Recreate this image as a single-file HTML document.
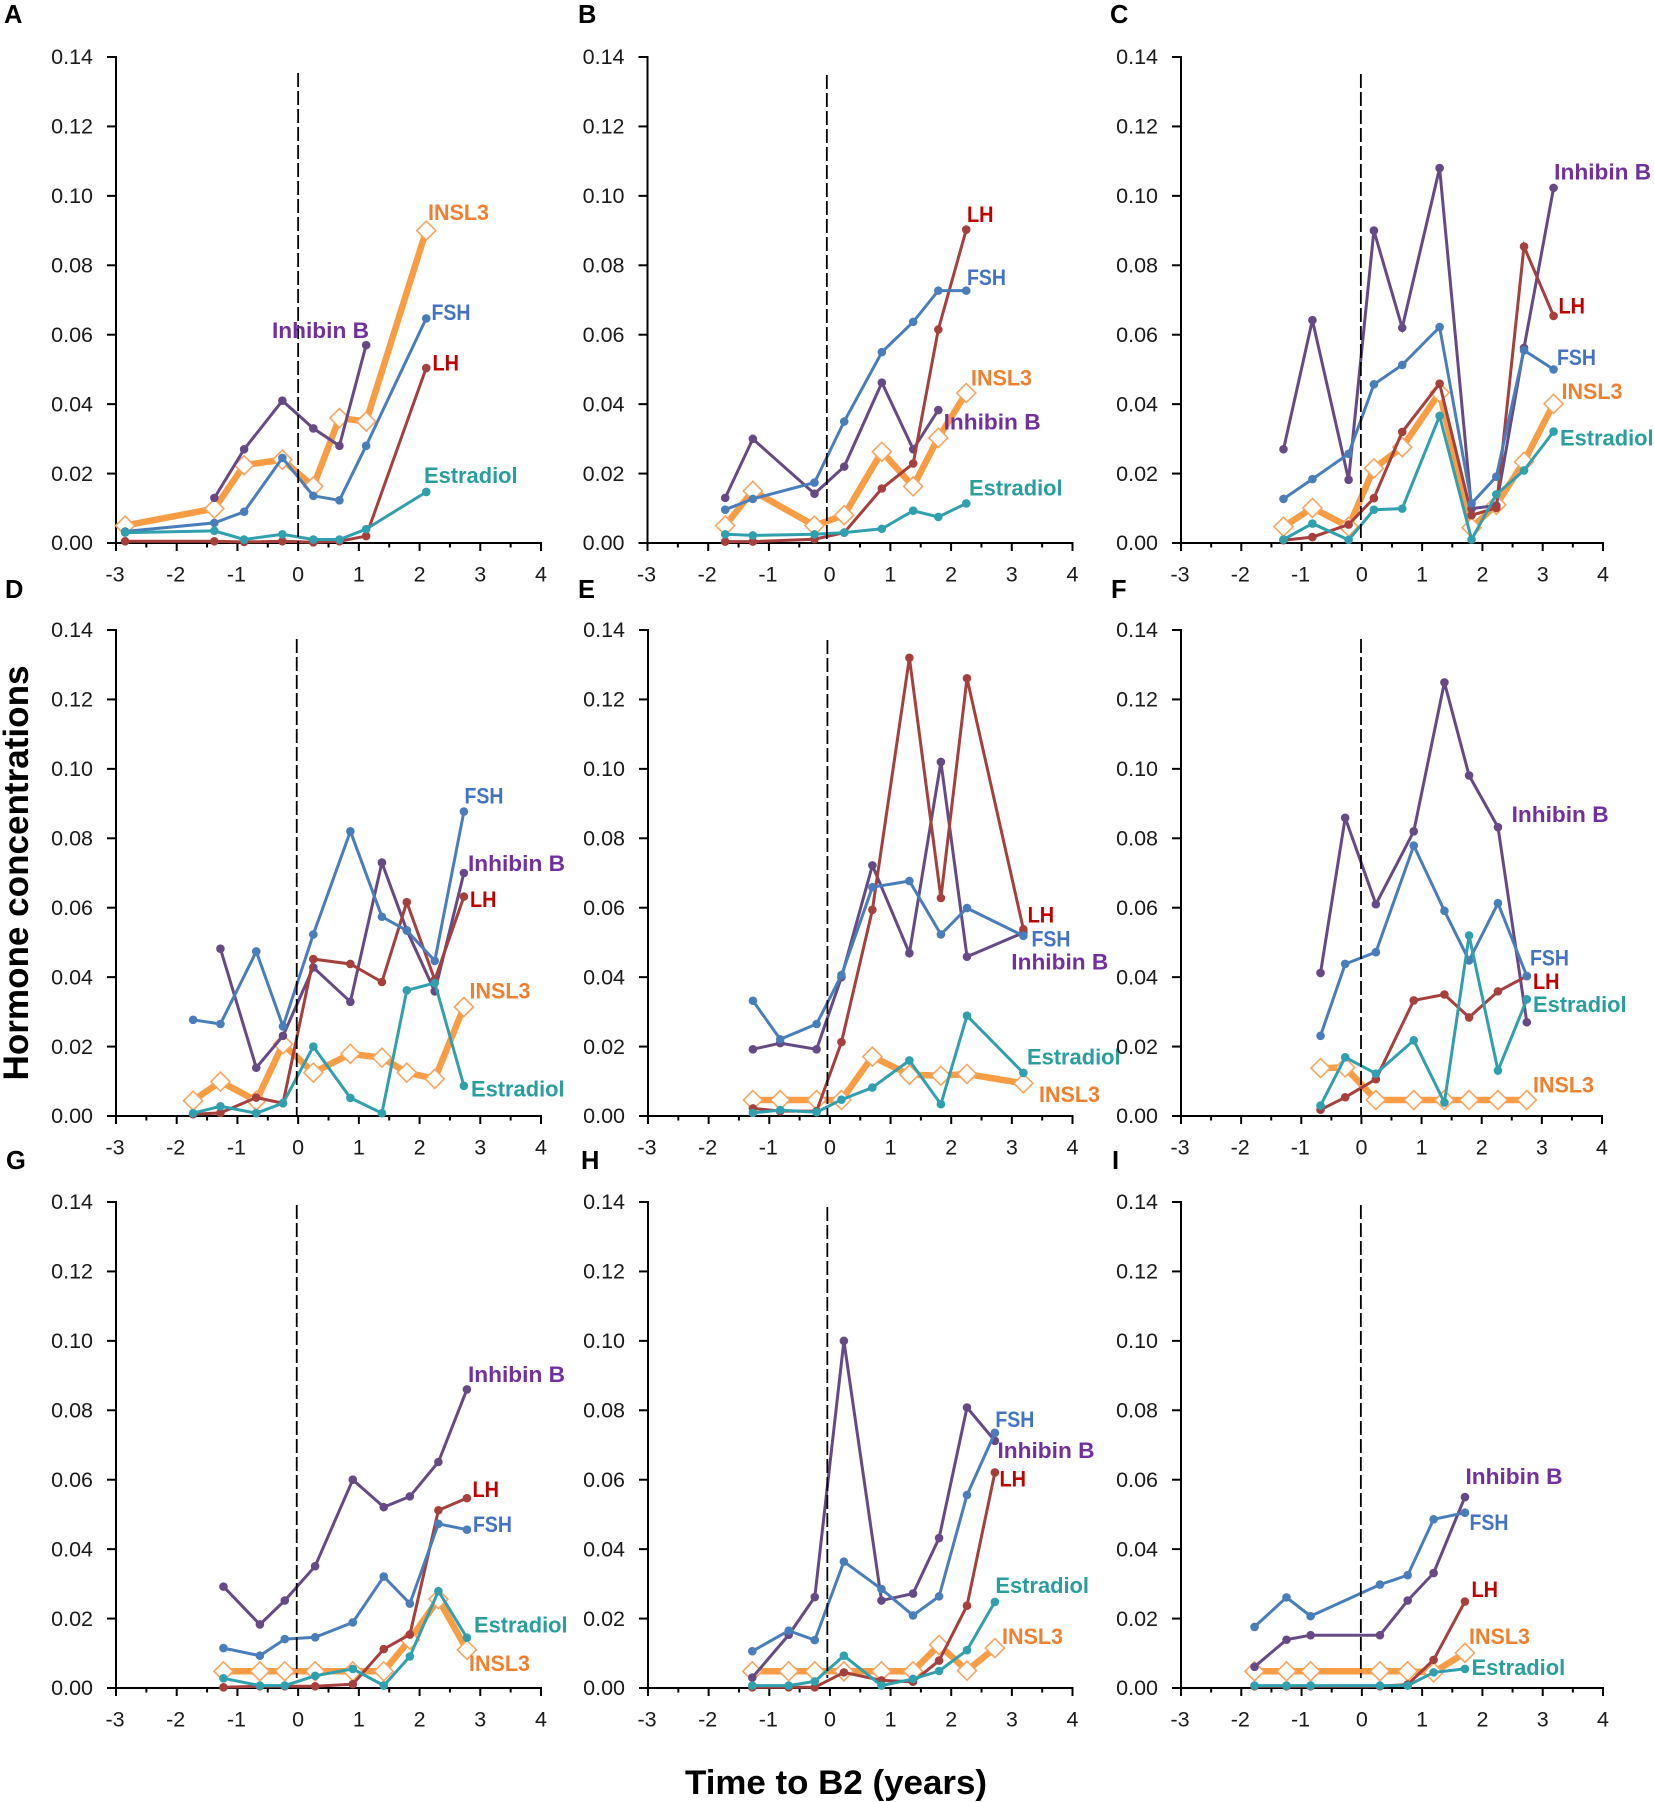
<!DOCTYPE html>
<html lang="en">
<head>
<meta charset="utf-8">
<title>Hormone concentrations vs time to B2</title>
<style>
html,body{margin:0;padding:0;background:#fff;}
svg{display:block;}
text{font-family:"Liberation Sans",sans-serif;}
</style>
</head>
<body>
<svg id="figure" xmlns="http://www.w3.org/2000/svg" width="1654" height="1802" viewBox="0 0 1654 1802">
  <rect x="0" y="0" width="1654" height="1802" fill="#ffffff"/>
  <text transform="translate(28,873) rotate(-90)" text-anchor="middle" font-size="35.5" font-weight="700" fill="#000" textLength="415" lengthAdjust="spacingAndGlyphs">Hormone concentrations</text>
  <text x="836" y="1794" text-anchor="middle" font-size="34" font-weight="700" fill="#000" textLength="302" lengthAdjust="spacingAndGlyphs">Time to B2 (years)</text>
</svg>
<script>
// ---- Axis tick labels ----
const yTickValues = [0, 0.02, 0.04, 0.06, 0.08, 0.10, 0.12, 0.14];
const xTickValues = [-3, -2, -1, 0, 1, 2, 3, 4];

// ---- Panel A ----
const timesA = [-2.85, -1.38, -0.89, -0.26, 0.25, 0.68, 1.12, 2.11];
const insl3A = [0.005, 0.0099, 0.0224, 0.024, 0.0163, 0.036, 0.035, 0.09];
const inhibinA = [null, 0.013, 0.027, 0.041, 0.033, 0.028, 0.057, null];
const lhA = [0.0005, 0.0005, 0.0003, 0.0005, 0.0002, 0.0005, 0.002, 0.0504];
const fshA = [0.0033, 0.0058, 0.009, 0.0245, 0.0136, 0.0123, 0.028, 0.0647];
const estradiolA = [0.003, 0.0035, 0.001, 0.0025, 0.001, 0.001, 0.004, 0.0147];

// ---- Panel B ----
const timesB = [-1.72, -1.265, -0.25, 0.24, 0.86, 1.376, 1.79, 2.25];
const insl3B = [0.005, 0.015, 0.005, 0.008, 0.0263, 0.0163, 0.0303, 0.0432];
const inhibinB = [0.013, 0.03, 0.0142, 0.022, 0.0462, 0.027, 0.0383, null];
const lhB = [0.0004, 0.0004, 0.0011, 0.003, 0.0157, 0.0229, 0.0615, 0.0903];
const fshB = [0.0096, 0.0127, 0.0174, 0.035, 0.055, 0.0637, 0.0727, 0.0727];
const estradiolB = [0.0025, 0.0022, 0.0025, 0.003, 0.0041, 0.0093, 0.0075, 0.0114];

// ---- Panel C ----
const timesC = [-1.3, -0.82, -0.22, 0.2, 0.67, 1.29, 1.82, 2.23, 2.69, 3.18];
const insl3C = [0.0047, 0.0101, 0.0047, 0.0215, 0.0276, 0.0433, 0.0044, 0.011, 0.0234, 0.0401];
const inhibinC = [0.027, 0.0642, 0.0182, 0.09, 0.062, 0.108, 0.0099, 0.0108, 0.0562, 0.1023];
const lhC = [0.0008, 0.0017, 0.0053, 0.0129, 0.032, 0.0459, 0.008, 0.0101, 0.0854, 0.0654];
const fshC = [0.0127, 0.0184, 0.0257, 0.0457, 0.0513, 0.0622, 0.0114, 0.0191, 0.0555, 0.05];
const estradiolC = [0.001, 0.0056, 0.0009, 0.0096, 0.0099, 0.0366, 0.001, 0.014, 0.0209, 0.0321];

// ---- Panel D ----
const timesD = [-1.73, -1.28, -0.69, -0.25, 0.25, 0.86, 1.38, 1.79, 2.25, 2.73];
const insl3D = [0.0044, 0.0099, 0.0044, 0.0207, 0.0125, 0.0179, 0.0168, 0.0125, 0.0107, 0.0314];
const inhibinD = [null, 0.0482, 0.0139, 0.0231, 0.0428, 0.0329, 0.073, 0.0535, 0.0359, 0.07];
const lhD = [0.0005, 0.0009, 0.0053, 0.0037, 0.0452, 0.0438, 0.0386, 0.0616, 0.0392, 0.0632];
const fshD = [0.0277, 0.0265, 0.0474, 0.0258, 0.0523, 0.082, 0.0574, 0.0534, 0.0447, 0.0877];
const estradiolD = [0.0008, 0.0028, 0.0008, 0.0037, 0.02, 0.0052, 0.0008, 0.0362, 0.0383, 0.0087];

// ---- Panel E ----
const timesE = [-1.27, -0.82, -0.22, 0.19, 0.7, 1.31, 1.83, 2.26, 3.19];
const insl3E = [0.0046, 0.0046, 0.0046, 0.0046, 0.0171, 0.0119, 0.0116, 0.0121, 0.0094];
const inhibinE = [0.0192, 0.021, 0.0192, 0.04, 0.0722, 0.0469, 0.102, 0.0459, 0.0528];
const lhE = [0.0022, 0.0014, 0.0014, 0.0213, 0.0594, 0.132, 0.0628, 0.1261, 0.0538];
const fshE = [0.0332, 0.0221, 0.0265, 0.0406, 0.0659, 0.0677, 0.0523, 0.0599, 0.0519];
const estradiolE = [0.0009, 0.0017, 0.0011, 0.0047, 0.0082, 0.016, 0.0034, 0.0289, 0.0124];

// ---- Panel F ----
const timesF = [-0.68, -0.27, 0.24, 0.87, 1.38, 1.79, 2.27, 2.75];
const insl3F = [0.0138, 0.014, 0.0046, 0.0046, 0.0046, 0.0046, 0.0046, 0.0046];
const inhibinF = [0.0412, 0.0859, 0.061, 0.082, 0.1249, 0.0981, 0.0832, 0.027];
const lhF = [0.0018, 0.0054, 0.0106, 0.0333, 0.035, 0.0284, 0.0359, 0.0403];
const fshF = [0.0231, 0.0438, 0.0472, 0.0779, 0.0591, 0.0448, 0.0613, 0.0403];
const estradiolF = [0.003, 0.0169, 0.0122, 0.0218, 0.0039, 0.052, 0.0131, 0.0336];

// ---- Panel G ----
const timesG = [-1.23, -0.63, -0.22, 0.28, 0.9, 1.41, 1.84, 2.31, 2.78];
const insl3G = [0.0048, 0.0048, 0.0048, 0.0048, 0.0048, 0.0048, 0.0139, 0.0256, 0.011];
const inhibinG = [0.0292, 0.0183, 0.0252, 0.0351, 0.06, 0.0521, 0.0552, 0.0651, 0.086];
const lhG = [0.0002, 0.0005, 0.0005, 0.0005, 0.0011, 0.0112, 0.0154, 0.0512, 0.0547];
const fshG = [0.0115, 0.0093, 0.0141, 0.0146, 0.0189, 0.0321, 0.0243, 0.0473, 0.0456];
const estradiolG = [0.0028, 0.0007, 0.0007, 0.0035, 0.0055, 0.0007, 0.0091, 0.0279, 0.0145];

// ---- Panel H ----
const timesH = [-1.28, -0.68, -0.25, 0.23, 0.85, 1.37, 1.8, 2.26, 2.72];
const insl3H = [0.0048, 0.0048, 0.0048, 0.0048, 0.0048, 0.0048, 0.0124, 0.005, 0.0115];
const inhibinH = [0.003, 0.0153, 0.0262, 0.1, 0.0252, 0.0272, 0.0432, 0.0808, 0.0712];
const lhH = [0.0002, 0.0002, 0.0002, 0.0045, 0.0022, 0.0018, 0.0079, 0.0237, 0.0621];
const fshH = [0.0106, 0.0165, 0.0138, 0.0364, 0.0285, 0.0209, 0.0264, 0.0556, 0.0735];
const estradiolH = [0.0007, 0.0007, 0.0019, 0.0093, 0.0007, 0.0026, 0.0049, 0.0109, 0.0248];

// ---- Panel I ----
const timesI = [-1.78, -1.25, -0.85, 0.3, 0.76, 1.19, 1.71];
const insl3I = [0.0048, 0.0048, 0.0048, 0.0048, 0.0048, 0.0045, 0.0101];
const inhibinI = [0.0061, 0.0139, 0.0152, 0.0152, 0.0252, 0.0331, 0.055];
const lhI = [0.0005, 0.0005, 0.0005, 0.0005, 0.001, 0.0081, 0.0249];
const fshI = [0.0176, 0.0261, 0.0207, 0.0298, 0.0325, 0.0486, 0.0505];
const estradiolI = [0.0007, 0.0007, 0.0007, 0.0007, 0.0007, 0.0045, 0.0055];

// ---- Styling of each hormone ----
const hormoneStyles = {
  insl3: {label: 'INSL3', line: '#f99d45', text: '#f0802f', width: 6.5, textWidth: 61},
  inhibin: {label: 'Inhibin B', line: '#664a85', text: '#7030a0', width: 3, textWidth: 97},
  lh: {label: 'LH', line: '#a5403d', text: '#c00000', width: 3, textWidth: 26.5},
  fsh: {label: 'FSH', line: '#4a7ebb', text: '#4472c4', width: 3, textWidth: 39},
  estradiol: {label: 'Estradiol', line: '#31a0ae', text: '#2a9d9d', width: 3, textWidth: 93.6}
};
const drawOrder = ['insl3', 'inhibin', 'lh', 'fsh', 'estradiol'];

// ---- Panel layout (frame geometry and label anchors) ----
const panelLayouts = [
  {id: 'A', xLeft: 116, xRight: 541, yTop: 57, yBase: 543, letterX: 4, letterY: 23, dashTop: 73, dashBottom: 543, dashShift: 0, times: timesA,
   series: {insl3: insl3A, inhibin: inhibinA, lh: lhA, fsh: fshA, estradiol: estradiolA},
   labels: {insl3: [428, 220], fsh: [431.5, 320], inhibin: [272, 338], lh: [432.5, 370.6], estradiol: [424, 483]}},
  {id: 'B', xLeft: 647.5, xRight: 1072.5, yTop: 57, yBase: 543, letterX: 578, letterY: 23, dashTop: 75, dashBottom: 543, dashShift: -2.8, times: timesB,
   series: {insl3: insl3B, inhibin: inhibinB, lh: lhB, fsh: fshB, estradiol: estradiolB},
   labels: {lh: [967, 222], fsh: [967, 285], insl3: [971, 385.5], inhibin: [943.6, 429.5], estradiol: [969, 495.7]}},
  {id: 'C', xLeft: 1181, xRight: 1603, yTop: 57, yBase: 543, letterX: 1110, letterY: 23, dashTop: 74, dashBottom: 543, dashShift: -1, times: timesC,
   series: {insl3: insl3C, inhibin: inhibinC, lh: lhC, fsh: fshC, estradiol: estradiolC},
   labels: {inhibin: [1554.2, 179.6], lh: [1558.5, 313.6], fsh: [1557, 365], insl3: [1561.5, 399], estradiol: [1560, 445.6]}},
  {id: 'D', xLeft: 116, xRight: 541, yTop: 630, yBase: 1116, letterX: 5, letterY: 598, dashTop: 639, dashBottom: 1116, dashShift: -1.4, times: timesD,
   series: {insl3: insl3D, inhibin: inhibinD, lh: lhD, fsh: fshD, estradiol: estradiolD},
   labels: {fsh: [464.5, 803.6], inhibin: [468, 871], lh: [470, 907], insl3: [469.5, 998.4], estradiol: [471, 1096.4]}},
  {id: 'E', xLeft: 648, xRight: 1072.5, yTop: 630, yBase: 1116, letterX: 578, letterY: 598, dashTop: 640, dashBottom: 1116, dashShift: -2.5, times: timesE,
   series: {insl3: insl3E, inhibin: inhibinE, lh: lhE, fsh: fshE, estradiol: estradiolE},
   labels: {lh: [1027.6, 922.3], fsh: [1031.5, 946.4], inhibin: [1011.3, 969.4], estradiol: [1027, 1064.3], insl3: [1039, 1101.8]}},
  {id: 'F', xLeft: 1181, xRight: 1602, yTop: 630, yBase: 1116, letterX: 1111, letterY: 598, dashTop: 639, dashBottom: 1116, dashShift: -0.4, times: timesF,
   series: {insl3: insl3F, inhibin: inhibinF, lh: lhF, fsh: fshF, estradiol: estradiolF},
   labels: {inhibin: [1511.6, 822], fsh: [1530, 965.5], lh: [1533, 989], estradiol: [1533, 1012], insl3: [1533, 1092.6]}},
  {id: 'G', xLeft: 116, xRight: 541, yTop: 1202, yBase: 1688, letterX: 6, letterY: 1169, dashTop: 1205, dashBottom: 1678, dashShift: -1.4, times: timesG,
   series: {insl3: insl3G, inhibin: inhibinG, lh: lhG, fsh: fshG, estradiol: estradiolG},
   labels: {inhibin: [468, 1381.8], lh: [472.5, 1497], fsh: [473, 1532], estradiol: [474, 1632.6], insl3: [469, 1671]}},
  {id: 'H', xLeft: 648, xRight: 1072.5, yTop: 1202, yBase: 1688, letterX: 581, letterY: 1169, dashTop: 1207, dashBottom: 1678, dashShift: -2.6, times: timesH,
   series: {insl3: insl3H, inhibin: inhibinH, lh: lhH, fsh: fshH, estradiol: estradiolH},
   labels: {fsh: [995.4, 1426.8], inhibin: [997.5, 1458], lh: [999.5, 1486.6], estradiol: [995.4, 1593], insl3: [1002, 1643.8]}},
  {id: 'I', xLeft: 1181, xRight: 1603, yTop: 1202, yBase: 1688, letterX: 1112, letterY: 1169, dashTop: 1205, dashBottom: 1678, dashShift: -1, times: timesI,
   series: {insl3: insl3I, inhibin: inhibinI, lh: lhI, fsh: fshI, estradiol: estradiolI},
   labels: {inhibin: [1465.5, 1484], fsh: [1469.5, 1530], lh: [1471.5, 1597], insl3: [1469, 1644], estradiol: [1471.6, 1675]}}
];

const SVG_NS = 'http://www.w3.org/2000/svg';
const figure = document.getElementById('figure');

function make(parent, tag, attrs) {
  const el = document.createElementNS(SVG_NS, tag);
  for (const k in attrs) el.setAttribute(k, attrs[k]);
  parent.appendChild(el);
  return el;
}

function drawPanel(p) {
  const tag = p.id.toLowerCase();
  const xScale = function (t) { return p.xLeft + (t + 3) * (p.xRight - p.xLeft) / 7; };
  const yScale = function (v) { return p.yBase - v * (p.yBase - p.yTop) / 0.14; };

  const g = make(figure, 'g', {});
  
  

  const letter = make(g, 'text', {x: p.letterX, y: p.letterY, 'font-size': 25.5, 'font-weight': 700, fill: '#000'});
  
  
  letter.textContent = p.id;

  const axes = make(g, 'g', {stroke: '#000', 'stroke-width': 2, fill: 'none'});
  
  
  make(axes, 'line', {x1: p.xLeft, x2: p.xLeft, y1: p.yTop - 1, y2: p.yBase + 8});
  make(axes, 'line', {x1: p.xLeft - 9, x2: p.xRight + 1, y1: p.yBase, y2: p.yBase});

  yTickValues.forEach(function (v) {
    const y = yScale(v);
    make(axes, 'line', {x1: p.xLeft - 9, x2: p.xLeft, y1: y, y2: y});
    const label = make(g, 'text', {x: p.xLeft - 23, y: y + 7.2, 'text-anchor': 'end', 'font-size': 21.5, fill: '#1a1a1a'});
    
    
    label.textContent = v.toFixed(2);
  });

  xTickValues.forEach(function (t) {
    const x = xScale(t);
    make(axes, 'line', {x1: x, x2: x, y1: p.yBase, y2: p.yBase + 8});
    if (t < 4) {
      const xm = xScale(t + 0.5);
      make(axes, 'line', {x1: xm, x2: xm, y1: p.yBase, y2: p.yBase + 4.5});
    }
    const label = make(g, 'text', {x: x - (t < 0 ? 1 : 0), y: p.yBase + 38.5, 'text-anchor': 'middle', 'font-size': 21.5, fill: '#1a1a1a'});
    
    
    label.textContent = String(t);
  });

  drawOrder.forEach(function (key) {
    const style = hormoneStyles[key];
    const values = p.series[key];
    const sg = make(g, 'g', {});
    
    
    const pts = [];
    p.times.forEach(function (t, i) {
      if (values[i] !== null) pts.push([xScale(t), yScale(values[i])]);
    });
    const line = make(sg, 'polyline', {
      points: pts.map(function (q) { return q[0].toFixed(1) + ',' + q[1].toFixed(1); }).join(' '),
      fill: 'none', stroke: style.line, 'stroke-width': style.width, 'stroke-linejoin': 'miter'
    });
    
    
    pts.forEach(function (q) {
      let mark;
      if (key === 'insl3') {
        mark = make(sg, 'polygon', {
          points: (q[0] - 9.5) + ',' + q[1] + ' ' + q[0] + ',' + (q[1] - 9.5) + ' ' + (q[0] + 9.5) + ',' + q[1] + ' ' + q[0] + ',' + (q[1] + 9.5),
          fill: '#ffffff', stroke: '#f9a560', 'stroke-width': 1.6
        });
      } else {
        mark = make(sg, 'circle', {cx: q[0], cy: q[1], r: 4.3, fill: style.line});
      }
      
      
    });
  });

  const zero = xScale(0) + p.dashShift;
  const dash = make(g, 'line', {x1: zero, x2: zero, y1: p.dashTop, y2: p.dashBottom, stroke: '#000', 'stroke-width': 1.8, 'stroke-dasharray': '14 4'});
  
  

  drawOrder.forEach(function (key) {
    const style = hormoneStyles[key];
    const pos = p.labels[key];
    const label = make(g, 'text', {x: pos[0], y: pos[1], 'font-size': 22, 'font-weight': 700, fill: style.text, textLength: style.textWidth, lengthAdjust: 'spacingAndGlyphs'});
    
    
    label.textContent = style.label;
  });
}

panelLayouts.forEach(drawPanel);
</script>
</body>
</html>
